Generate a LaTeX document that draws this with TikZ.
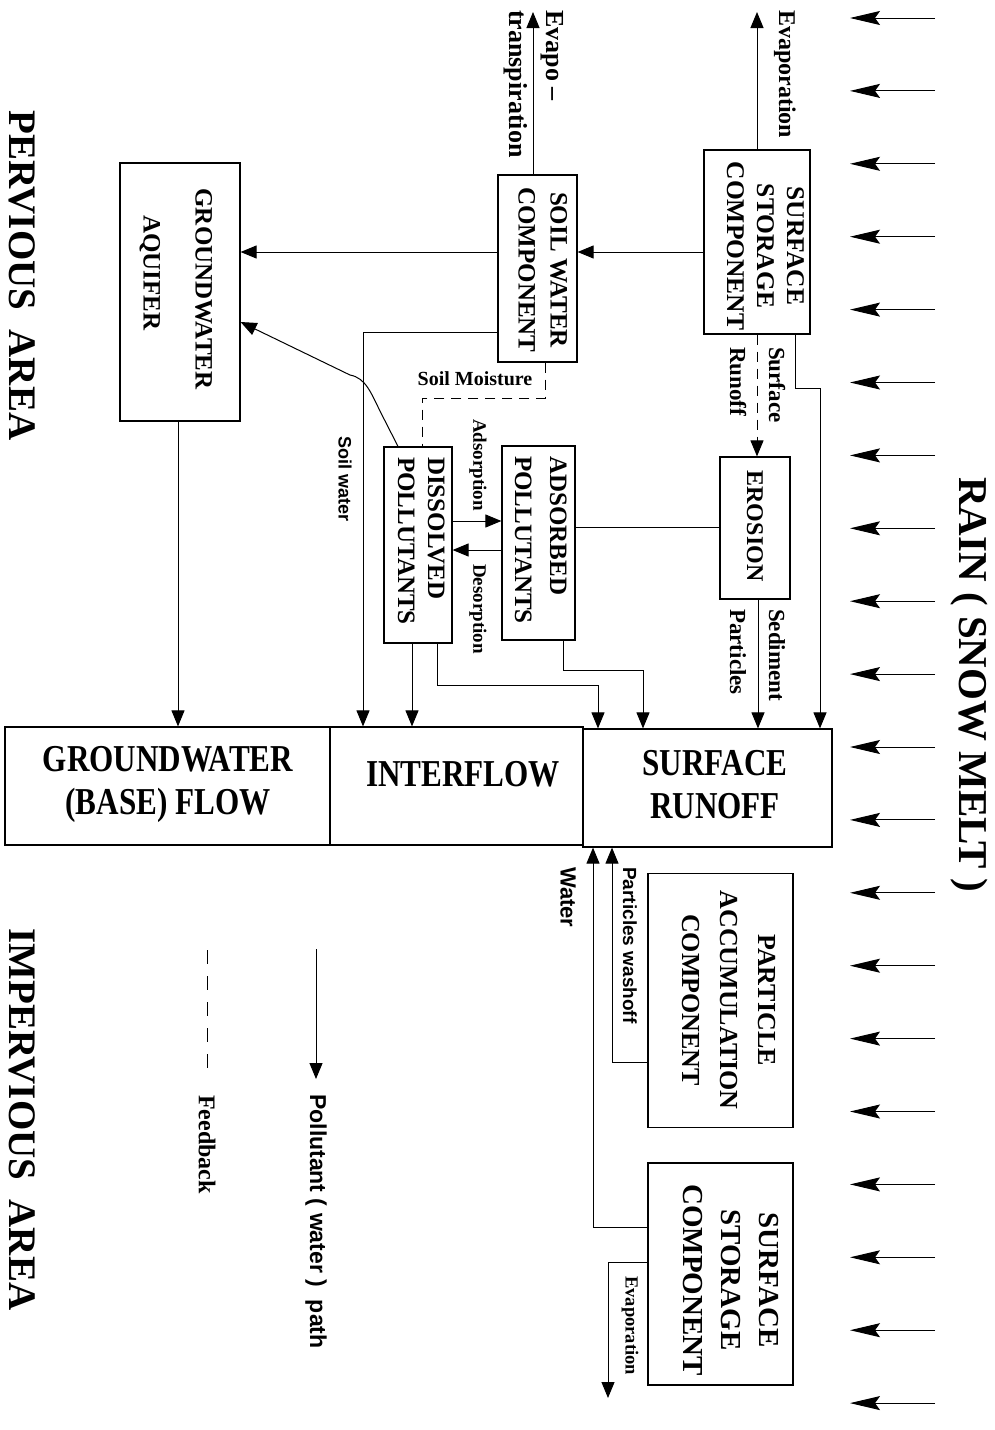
\documentclass[tikz,border=0pt]{standalone}
\usepackage{fontspec}
\usepackage{graphicx}
\setmainfont{Liberation Serif}
\newfontfamily\labsans{Liberation Sans}
\usetikzlibrary{arrows.meta}

% bold text at a given size / line spacing
\newcommand{\fsz}[2]{\fontsize{#1}{#2}\selectfont\bfseries}
% text read from top to bottom, several lines
\newcommand{\vstack}[2]{\rotatebox{-90}{\begin{tabular}{@{}#1@{}}#2\end{tabular}}}
\newcommand{\vword}[1]{\rotatebox{-90}{#1}}
% narrow, tall lettering for the outflow boxes
\newcommand{\narrow}[1]{\scalebox{0.82}[1]{\begin{tabular}{@{}c@{}}#1\end{tabular}}}

\tikzset{
  box/.style={draw, line width=1.2pt, inner sep=0pt},
  txt/.style={inner sep=0pt},
  flow/.style={line width=1pt, -{Triangle[length=16pt,width=13pt]}},
  link/.style={line width=1pt},
  fb/.style={line width=1pt, dash pattern=on 10pt off 7pt},
  rain/.style={line width=1pt, -{Stealth[length=30pt,width=14pt,inset=5pt]}}
}

\begin{document}
\begin{tikzpicture}[x=1pt,y=-1pt]
\fill[white] (0,0) rectangle (994,1430);
\useasboundingbox (0,0) rectangle (994,1430);

% ---------- boxes ----------
\node[box, minimum width=106pt, minimum height=184pt] (ss1) at (757,242) {};
\node[box, minimum width=79pt,  minimum height=187pt] (sw)  at (537.5,268.5) {};
\node[box, minimum width=120pt, minimum height=258pt] (gwa) at (180,292) {};
\node[box, minimum width=68pt,  minimum height=196pt] (dp)  at (418,545) {};
\node[box, minimum width=73pt,  minimum height=194pt] (ap)  at (538.5,543) {};
\node[box, minimum width=70pt,  minimum height=142pt] (er)  at (755,528) {};
\node[box, minimum width=325pt, minimum height=118pt] (gwf) at (167.5,786) {};
\node[box, minimum width=253pt, minimum height=118pt] (inf) at (456.5,786) {};
\node[box, minimum width=249pt, minimum height=118pt] (sr)  at (707.5,788) {};
\node[box, minimum width=145pt, minimum height=254pt] (pac) at (720.5,1000.5) {};
\node[box, minimum width=145pt, minimum height=222pt] (ss2) at (720.5,1274) {};

% ---------- box texts ----------
\node[txt, font=\fsz{25.5}{30}] (ss1t) at (763,246) {\vstack{c}{SURFACE\\STORAGE\\COMPONENT}};
\node[txt, font=\fsz{25}{32}] (swt) at (541,270) {\vstack{c}{SOIL WATER\\COMPONENT}};
\node[txt, font=\fsz{25}{52}] (gwat) at (180,289) {\vstack{c}{GROUNDWATER\\AQUIFER\hspace*{32pt}}};
\node[txt, font=\fsz{25}{30}, anchor=north] (dpt) at (419,457) {\vstack{l}{DISSOLVED\\POLLUTANTS}};
\node[txt, font=\fsz{25}{35}, anchor=north] (apt) at (539.5,456) {\vstack{l}{ADSORBED\\POLLUTANTS}};
\node[txt, font=\fsz{24}{24}] (ert) at (755,526) {\vword{EROSION}};
\node[txt, font=\fsz{38}{43}] (gwft) at (168,784) {\narrow{GROUNDWATER\\(BASE) FLOW}};
\node[txt, font=\fsz{38}{43}] (inft) at (463,778) {\narrow{INTERFLOW}};
\node[txt, font=\fsz{38}{43}] (srt) at (715,788) {\narrow{SURFACE\\RUNOFF}};
\node[txt, font=\fsz{26}{38}] (pact) at (728,1000) {\vstack{c}{PARTICLE\\ACCUMULATION\\COMPONENT}};
\node[txt, font=\fsz{29}{38}] (ss2t) at (729,1280) {\vstack{c}{SURFACE\\STORAGE\\COMPONENT}};

% ---------- area titles ----------
\node[txt, font=\fsz{41}{41}, anchor=north] (rainl) at (969,477) {\vword{RAIN ( SNOW MELT )}};
\node[txt, font=\fsz{39}{39}, anchor=north] (perv) at (22,110) {\vword{PERVIOUS\ \ AREA}};
\node[txt, font=\fsz{39}{39}, anchor=north] (imperv) at (22,928) {\vword{IMPERVIOUS\ \ AREA}};

% ---------- rain ----------
\foreach \i in {0,...,19}{
  \draw[rain] (935,{18+72.9*\i}) -- (850,{18+72.9*\i});
}

% ---------- pervious area paths ----------
\coordinate (evT) at (757,12);
\coordinate (etT) at (533,12);
\draw[flow] (ss1.north) -- (evT);
\draw[flow] (sw.north -| etT) -- (etT);
\node[txt, font=\fsz{24}{24}, anchor=north] (evl) at (785,10) {\vword{Evaporation}};
\node[txt, font=\fsz{26}{26}, anchor=north] (etl1) at (552,10) {\vword{Evapo --}};
\node[txt, font=\fsz{26}{26}, anchor=north] (etl2) at (516,10) {\vword{transpiration}};

\draw[flow] (ss1.west |- 0,252) -- (sw.east |- 0,252);
\draw[flow] (sw.west |- 0,252) -- (gwa.east |- 0,252);

% surface runoff feedback to erosion
\draw[fb, -{Triangle[length=16pt,width=13pt]}] (ss1.south) -- (er.north -| ss1.south);
\node[txt, font=\fsz{23}{23}, anchor=north] (srl1) at (777,347) {\vword{Surface}};
\node[txt, font=\fsz{23}{23}, anchor=north] (srl2) at (738,347) {\vword{Runoff}};

% surface storage straight to surface runoff
\draw[flow] (ss1.south -| 795,0) -- (795,388) -- (820,388) -- (sr.north -| 820,0);

% sediment
\draw[flow] (er.south -| 758,0) -- (sr.north -| 758,0);
\node[txt, font=\fsz{23}{23}, anchor=north] (sdl1) at (777,609) {\vword{Sediment}};
\node[txt, font=\fsz{23}{23}, anchor=north] (sdl2) at (738,609) {\vword{Particles}};

% erosion -- adsorbed pollutants
\draw[link] (ap.east |- 0,527) -- (er.west |- 0,527);

% adsorption / desorption
\draw[flow] (dp.east |- 0,521) -- (ap.west |- 0,521);
\draw[flow] (ap.west |- 0,550) -- (dp.east |- 0,550);
\node[txt, font=\fsz{19}{19}, anchor=north] (adl) at (478,419) {\vword{Adsorption}};
\node[txt, font=\fsz{19}{19}, anchor=north] (del) at (478,564) {\vword{Desorption}};

% soil moisture feedback
\draw[fb] (sw.south -| 545,0) -- (545,398) -- (422,398) -- (dp.north -| 422,0);
\node[txt, font=\fsz{20}{20}] (sml) at (475,379) {Soil Moisture};

% soil water to interflow
\draw[flow] (sw.west |- 0,332) -- (363,332) -- (inf.north -| 363,0);
\node[txt, font=\labsans\fsz{18}{18}, anchor=north] (swl) at (345,436) {\vword{Soil water}};

% dissolved pollutants to groundwater aquifer
\draw[flow] (dp.north -| 398,0) -- (381,413) .. controls (371,393) and (366,378) .. (350,375) -- (gwa.east |- 0,322);

% to the outflow boxes
\draw[flow] (gwa.south -| 178,0) -- (gwf.north -| 178,0);
\draw[flow] (dp.south -| 412,0) -- (inf.north -| 412,0);
\draw[flow] (dp.south -| 437,0) -- (437,685) -- (598,685) -- (sr.north -| 598,0);
\draw[flow] (ap.south -| 563,0) -- (563,670) -- (643,670) -- (sr.north -| 643,0);

% ---------- impervious area paths ----------
\draw[flow] (pac.west |- 0,1062) -- (612,1062) -- (sr.south -| 612,0);
\node[txt, font=\labsans\fsz{19}{19}, anchor=north] (pwl) at (630,867) {\vword{Particles washoff}};
\draw[flow] (ss2.west |- 0,1227) -- (593,1227) -- (sr.south -| 593,0);
\node[txt, font=\labsans\fsz{22}{22}, anchor=north] (wal) at (568,867) {\vword{Water}};
\coordinate (evB) at (608,1398);
\draw[flow] (ss2.west |- 0,1262) -- (608,1262) -- (evB);
\node[txt, font=\fsz{18.5}{18.5}, anchor=north] (evbl) at (630,1276) {\vword{Evaporation}};

% ---------- legend ----------
\coordinate (lgA) at (316,949);
\coordinate (lgB) at (316,1079);
\draw[flow] (lgA) -- (lgB);
\node[txt, font=\labsans\fsz{23}{23}, anchor=north] (lgl1) at (316,1094) {\vword{Pollutant ( water )\ \ path}};
\coordinate (lgC) at (207,950);
\coordinate (lgD) at (207,1072);
\draw[line width=1pt, dash pattern=on 14pt off 12pt] (lgC) -- (lgD);
\node[txt, font=\fsz{24}{24}, anchor=north] (lgl2) at (207,1095) {\vword{Feedback}};
\end{tikzpicture}
\end{document}
